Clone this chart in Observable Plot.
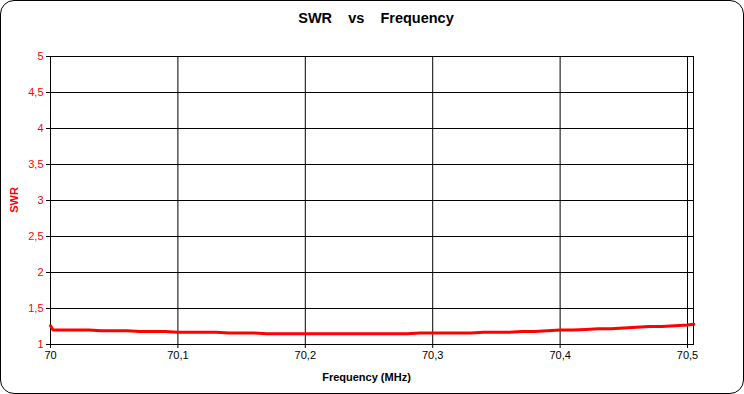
<!DOCTYPE html>
<html><head><meta charset="utf-8">
<script src="https://cdn.jsdelivr.net/npm/d3@7"></script>
<script src="https://cdn.jsdelivr.net/npm/@observablehq/plot@0.6"></script>
<style>
body{margin:0;background:#fff}
#wrap{position:relative;width:744px;height:394px;font-family:"Liberation Sans",Arial,sans-serif}
#border{position:absolute;left:0;top:0;width:744px;height:394px;box-sizing:border-box;border:1px solid #000;border-radius:14px;pointer-events:none}
#title{position:absolute;top:10px;left:4px;width:744px;text-align:center;font-weight:bold;font-size:14.5px;white-space:pre}
#xlabel{position:absolute;top:371px;left:45px;width:643px;text-align:center;font-weight:bold;font-size:11px}
#ylabel{position:absolute;left:14px;top:200px;transform:translate(-50%,-50%) rotate(-90deg);font-weight:bold;font-size:11px;color:red;white-space:nowrap}
#chart{position:absolute;left:0;top:0}
</style></head>
<body>
<div id="wrap">
<div id="chart"></div>
<div id="title">SWR    vs    Frequency</div>
<div id="xlabel">Frequency (MHz)</div>
<div id="ylabel">SWR</div>
<div id="border"></div>
</div>
<script>
const freq = [70.000,70.002,70.01,70.02,70.03,70.04,70.05,70.06,70.07,70.08,70.09,70.10,70.11,70.12,70.13,70.14,70.15,70.16,70.17,70.18,70.19,70.20,70.21,70.22,70.23,70.24,70.25,70.26,70.27,70.28,70.29,70.30,70.31,70.32,70.33,70.34,70.35,70.36,70.37,70.38,70.39,70.40,70.41,70.42,70.43,70.44,70.45,70.46,70.47,70.48,70.49,70.50,70.505];
const swr  = [1.26,1.20,1.20,1.20,1.20,1.19,1.19,1.19,1.18,1.18,1.18,1.17,1.17,1.17,1.17,1.16,1.16,1.16,1.15,1.15,1.15,1.15,1.15,1.15,1.15,1.15,1.15,1.15,1.15,1.15,1.16,1.16,1.16,1.16,1.16,1.17,1.17,1.17,1.18,1.18,1.19,1.20,1.20,1.21,1.22,1.22,1.23,1.24,1.25,1.25,1.26,1.27,1.28];
const xTicks = [70,70.1,70.2,70.3,70.4,70.5];
const yTicks = [1,1.5,2,2.5,3,3.5,4,4.5,5];
const data = freq.map((f,i)=>({f, s: swr[i]}));
const fmt = d => String(d).replace(".", ",");
const chart = Plot.plot({
  width:744, height:394,
  marginLeft:50, marginRight:51, marginTop:56, marginBottom:50,
  style:{fontFamily:"Liberation Sans, Arial, sans-serif", fontSize:"11px", background:"transparent", color:"#000"},
  x:{domain:[70,70.5047], label:null},
  y:{domain:[1,5], label:null},
  marks:[
    Plot.gridX(xTicks,{stroke:"#000",strokeOpacity:1}),
    Plot.gridY(yTicks,{stroke:"#000",strokeOpacity:1}),
    Plot.frame({stroke:"#000"}),
    Plot.axisX(xTicks,{tickSize:4,tickPadding:3,tickFormat:fmt,label:null,stroke:"#000",fill:"#000"}),
    Plot.axisY(yTicks,{tickSize:4,tickPadding:3,tickFormat:fmt,label:null,stroke:"#000",fill:"red"}),
    Plot.line(data,{x:"f",y:"s",stroke:"red",strokeWidth:3})
  ]
});
document.getElementById("chart").appendChild(chart);
</script>
</body></html>
